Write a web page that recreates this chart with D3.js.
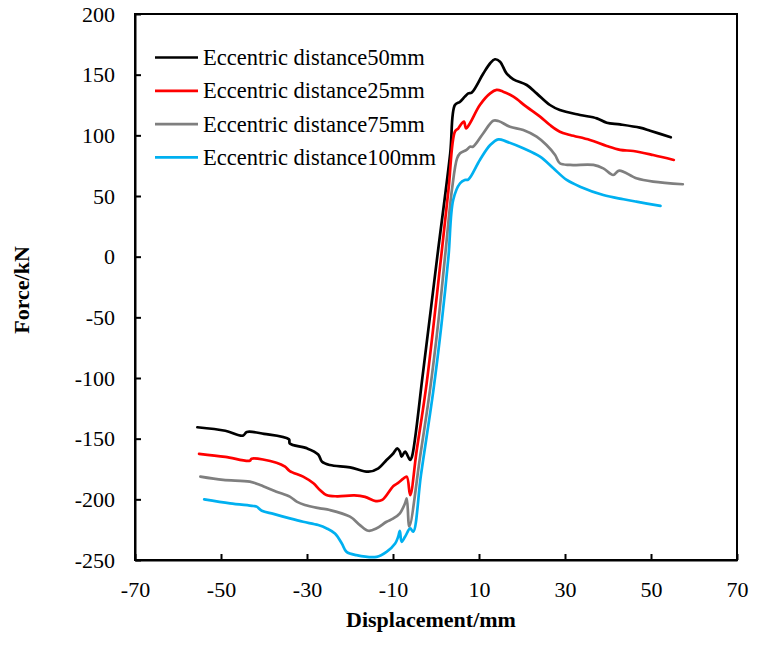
<!DOCTYPE html>
<html><head><meta charset="utf-8">
<script src="https://cdn.jsdelivr.net/npm/d3@7/dist/d3.min.js"></script>
<style>body{margin:0;background:#fff}</style>
</head><body><svg id="c" width="757" height="671"></svg>
<script>
const xTicks = [-70,-50,-30,-10,10,30,50,70];
const yTicks = [-250,-200,-150,-100,-50,0,50,100,150,200];
const seriesNames = ["Eccentric distance50mm","Eccentric distance25mm","Eccentric distance75mm","Eccentric distance100mm"];
const seriesColors = ["#000000","#ff0000","#7f7f7f","#00b0f0"];

const ecc50 = [[-55.5,-140.6],[-49,-143.5],[-44.9,-147.5],[-44,-144.5],[-40,-146],[-34.2,-150.5],[-34,-154],[-30,-158],[-27.4,-163],[-26.5,-169],[-24.7,-171.7],[-20,-173.6],[-15.7,-177.2],[-13.4,-174.4],[-11.5,-167.6],[-9.9,-162],[-9,-158],[-8.4,-160.7],[-8,-164.9],[-7.2,-160.7],[-6,-167.6],[-5.6,-165],[-3,-95],[0.3,0],[3.3,85],[4.4,125],[5.6,127.7],[6.7,131.9],[7.5,134.6],[8.3,135.2],[11,151],[12.6,159.4],[13.7,162.7],[14.9,160.7],[16.4,151],[18,146.2],[21.1,141.5],[23.4,134.6],[26.5,125],[28.8,120.9],[33.5,116.8],[37.4,114],[39.7,110.4],[42.8,109],[47.4,106.3],[49.8,103.8],[54.6,98.4]];
const ecc25 = [[-55.1,-162.5],[-49,-165],[-43.3,-168.2],[-42.9,-166.5],[-37.1,-169.8],[-35.1,-173.1],[-34,-176.7],[-30.9,-181.3],[-28.5,-186.8],[-27,-192.3],[-25.5,-196.5],[-23,-197.5],[-19,-196.8],[-16.5,-198],[-14,-201.5],[-12.5,-200.5],[-9.9,-189],[-8.8,-186.5],[-7.6,-183],[-6.8,-181.3],[-6,-196.5],[-4.5,-160],[-2.2,-105],[1.2,0],[2.9,55],[4.4,103],[5.2,105.8],[6,109.9],[6.5,111.3],[7,105.8],[7.9,110],[10.2,125],[12.6,134.6],[14.1,137.4],[15.6,136],[18,131.9],[21,123.6],[24.2,115.4],[26.5,108.5],[28.8,103],[31.2,100.3],[35.8,96.2],[39.7,91.2],[42.8,88],[45.9,87.1],[50.5,83.8],[55.3,79.7]];
const ecc75 = [[-54.8,-181.3],[-49.5,-184],[-43.3,-185.4],[-40.9,-188.2],[-37.1,-193.7],[-34,-197.8],[-32.4,-201.9],[-30.5,-204.7],[-27,-207.4],[-24.7,-208.8],[-20,-214.3],[-17.7,-221.2],[-15.7,-225.9],[-13.8,-223.9],[-11.5,-218.5],[-9.9,-215.7],[-8.4,-211.5],[-7.2,-203.3],[-6.8,-199.2],[-6.2,-222.5],[-3.7,-165],[-1.4,-110],[0.5,-55],[2.1,0],[3.7,55],[4.9,81],[5.6,85.2],[7.1,88],[7.9,90.6],[8.6,90.6],[11,101.7],[13.3,112],[14.5,111.8],[17.2,107.1],[20.3,104.4],[23.4,98.9],[25.7,92],[27.7,83.8],[28.8,77],[31.2,75.6],[36.6,75.6],[38.9,72.8],[41.2,67.3],[42.6,70.9],[46.6,64.6],[50.5,61.8],[57.4,59.7]];
const ecc100 = [[-53.9,-200],[-47.9,-203.3],[-42.5,-205.5],[-41.7,-206],[-40.5,-209.4],[-37.8,-212],[-34,-215.7],[-30.9,-218.5],[-27.4,-221.2],[-25.4,-224],[-23.5,-228.2],[-21.9,-236.4],[-20.8,-243.3],[-18.5,-246],[-13.8,-247.4],[-11.5,-243.3],[-9.5,-236.4],[-8.8,-230.9],[-8.4,-226],[-8,-235],[-7.2,-230.9],[-6,-224],[-5.3,-226.7],[-3.5,-180],[-0.6,-110],[1.3,-55],[2.9,0],[4,46.7],[5.6,60.5],[6.7,63.2],[7.5,63.5],[10.2,79.7],[12.6,92],[14.5,96.7],[16.4,94.8],[20.3,89.3],[24.2,82.4],[27.3,72.8],[30.4,63.2],[33.5,57.7],[38.9,50.8],[43.6,47.3],[46.6,45.3],[52.2,41.8]];
const seriesData = [ecc50, ecc25, ecc75, ecc100];

const svg = d3.select("#c");
const L=135, R=737, T=14, B=560;
const x = d3.scaleLinear().domain([-70,70]).range([L,R]);
const y = d3.scaleLinear().domain([-250,200]).range([B,T]);
const FF = '"Liberation Serif"';
const FS = "22px";

svg.append("rect").attr("x",L).attr("y",T).attr("width",R-L).attr("height",B-T)
  .attr("fill","none").attr("stroke","#000").attr("stroke-width",2);

const xa = svg.append("g").attr("transform",`translate(0,${B})`)
  .call(d3.axisBottom(x).tickValues(xTicks).tickFormat(d=>String(d)).tickSizeInner(-6).tickSizeOuter(0).tickPadding(21));
const ya = svg.append("g").attr("transform",`translate(${L},0)`)
  .call(d3.axisLeft(y).tickValues(yTicks).tickFormat(d=>String(d)).tickSizeInner(-6).tickSizeOuter(0).tickPadding(20));
[xa,ya].forEach(a=>{
  a.select(".domain").attr("stroke","#000").attr("stroke-width",2);
  a.selectAll(".tick line").attr("stroke","#000").attr("stroke-width",2);
  a.selectAll("text").style("font-family",FF).style("font-size",FS).attr("fill","#000");
});

seriesData.forEach((s,i)=>{
  svg.append("path").datum(s).attr("d",d3.line().x(d=>x(d[0])).y(d=>y(d[1])).curve(d3.curveCatmullRom.alpha(0.5)))
    .attr("fill","none").attr("stroke",seriesColors[i]).attr("stroke-width",2.7)
    .attr("stroke-linejoin","round").attr("stroke-linecap","round");
});

const lg = svg.append("g");
seriesNames.forEach((n,i)=>{
  const yy = 57.5 + i*33.3;
  lg.append("line").attr("x1",155).attr("x2",198).attr("y1",yy).attr("y2",yy)
    .attr("stroke",seriesColors[i]).attr("stroke-width",2.7);
  lg.append("text").attr("x",203).attr("y",yy).attr("dy","0.33em").text(n)
    .style("font-family",FF).style("font-size","22.5px").attr("fill","#000");
});

svg.append("text").attr("x",431).attr("y",627).attr("text-anchor","middle")
  .style("font-family",FF).style("font-weight","bold").style("font-size",FS).text("Displacement/mm");
svg.append("text").attr("transform",`translate(29,290) rotate(-90)`).attr("text-anchor","middle")
  .style("font-family",FF).style("font-weight","bold").style("font-size",FS).text("Force/kN");
</script></body></html>
